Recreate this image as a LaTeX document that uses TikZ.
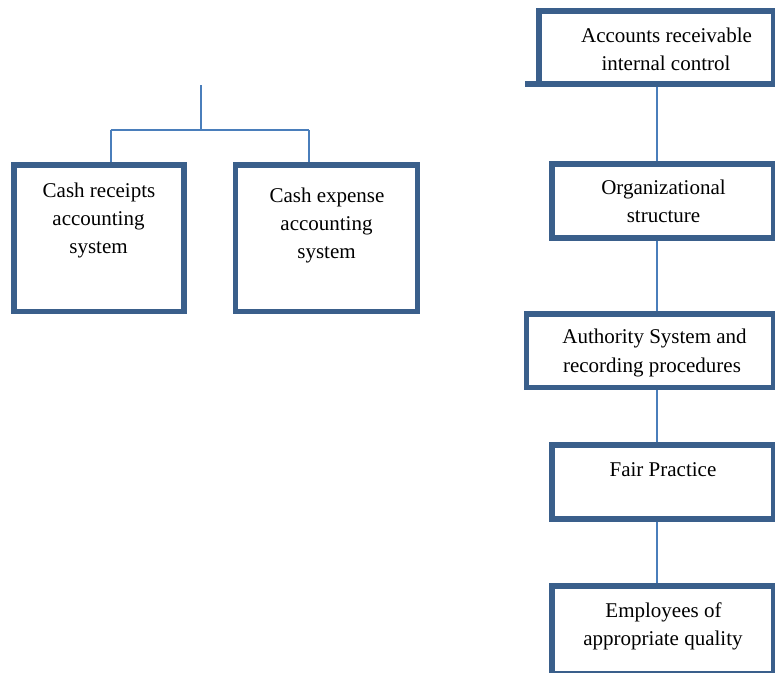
\documentclass[tikz,border=0pt]{standalone}
\usepackage{fontspec}
\setmainfont{Liberation Serif}
\definecolor{boxblue}{HTML}{3A5F8B}
\definecolor{lineblue}{HTML}{4A7EBB}
\begin{document}
\begin{tikzpicture}[x=0.75pt,y=-0.75pt,
  box/.style={draw=boxblue,line width=4.1pt,fill=white,rectangle,inner sep=0pt},
  conn/.style={draw=lineblue,line width=1.5pt},
  txt/.style={anchor=base,inner sep=0pt,font=\fontsize{15.75pt}{21pt}\selectfont}]
\useasboundingbox (0,0) rectangle (775,672);
\clip (0,0) rectangle (775,672);
\fill[white] (0,0) rectangle (775,672);
% right column boxes
\node[box,minimum width=234.5*0.75pt,minimum height=73*0.75pt] (r1) at (656.25,47.5) {};
\draw[draw=boxblue,line width=4.1pt] ([xshift=2.05pt,yshift=2.05pt]r1.south west) -- ++(-14,0);
\node[box,minimum width=221.5*0.75pt,minimum height=74*0.75pt] (r2) at (662.75,201) {};
\node[box,minimum width=247*0.75pt,minimum height=73.5*0.75pt] (r3) at (650,350.75) {};
\node[box,minimum width=221.5*0.75pt,minimum height=74*0.75pt] (r4) at (662.75,482) {};
\node[box,minimum width=221.5*0.75pt,minimum height=88*0.75pt] (r5) at (662.75,630) {};
% left boxes
\node[box,minimum width=170*0.75pt,minimum height=146.5*0.75pt] (l1) at (99,238.25) {};
\node[box,minimum width=182*0.75pt,minimum height=146.5*0.75pt] (l2) at (326.5,238.25) {};
% connectors right
\coordinate (cx) at (657,0);
\draw[conn] (r1.south -| cx) -- (r2.north -| cx);
\draw[conn] (r2.south -| cx) -- (r3.north -| cx);
\draw[conn] (r3.south -| cx) -- (r4.north -| cx);
\draw[conn] (r4.south -| cx) -- (r5.north -| cx);
% connectors left
\coordinate (lt) at (201,85);
\coordinate (lj) at (201,130);
\coordinate (ja) at (110.5,130);
\coordinate (jb) at (309,130);
\draw[conn] (lt) -- (lj);
\draw[conn] (ja) -- (jb);
\draw[conn] (ja) -- (l1.north -| ja);
\draw[conn] (jb) -- (l2.north -| jb);
% texts
\node[txt] (r1a) at (666.5,42) {Accounts receivable};
\node[txt] (r1b) at (666,70) {internal control};
\node[txt] (r2a) at (663.5,194) {Organizational};
\node[txt] (r2b) at (663.5,222) {structure};
\node[txt] (r3a) at (654.5,343) {Authority System and};
\node[txt] (r3b) at (652,372) {recording procedures};
\node[txt] (r4a) at (663,476) {Fair Practice};
\node[txt] (r5a) at (663.5,617) {Employees of};
\node[txt] (r5b) at (663,645) {appropriate quality};
\node[txt] (l1a) at (99,197) {Cash receipts};
\node[txt] (l1b) at (98.5,225) {accounting};
\node[txt] (l1c) at (98.5,253) {system};
\node[txt] (l2a) at (327,202) {Cash expense};
\node[txt] (l2b) at (326.5,230) {accounting};
\node[txt] (l2c) at (326.5,258) {system};
\end{tikzpicture}
\end{document}
